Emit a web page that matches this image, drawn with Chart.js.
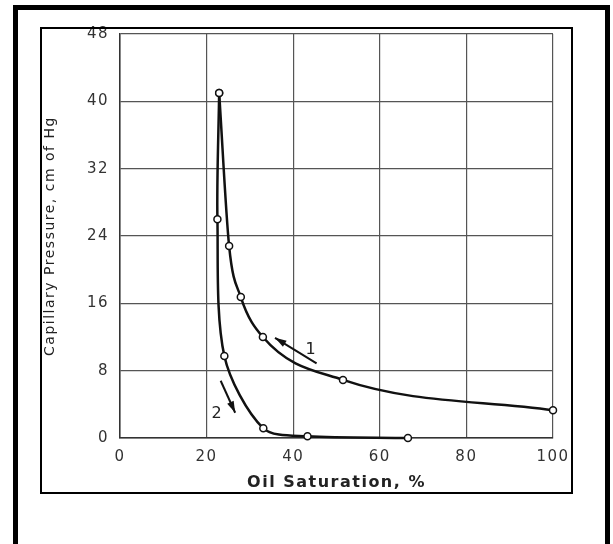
<!DOCTYPE html>
<html>
<head>
<meta charset="utf-8">
<script src="https://cdn.jsdelivr.net/npm/chart.js@4.4.1/dist/chart.umd.min.js"></script>
<style>
  html, body { margin: 0; padding: 0; background: #fff; width: 613px; height: 544px; overflow: hidden; }
  .borda-externa { position: absolute; left: 13px; top: 5px; width: 587px; height: 600px; border: 5px solid #000; }
  .moldura { position: absolute; left: 40px; top: 27px; width: 529px; height: 463px; border: 2px solid #000; }
  #grafico { position: absolute; left: 42px; top: 18px; display: block; }
</style>
</head>
<body>
<div class="borda-externa"></div>
<canvas id="grafico" width="529" height="474"></canvas>
<div class="moldura"></div>
<script>
// Dados
const curva1X = [22.9, 25.2, 27.9, 33.0, 51.5, 100];
const curva1Y = [41.0, 22.8, 16.75, 12.0, 6.9, 3.3];
const curva2X = [22.9, 22.5, 24.1, 33.1, 43.3, 66.5];
const curva2Y = [41.0, 26.0, 9.75, 1.15, 0.2, 0];
const ticksX = [0, 20, 40, 60, 80, 100];
const ticksY = [0, 8, 16, 24, 32, 40, 48];

// Setas e rótulos (em unidades do gráfico)
const setas = [
  { de: [45.4, 8.87], para: [35.8, 11.9] },
  { de: [23.25, 6.8], para: [26.6, 3.0] }
];
const rotulos = [
  { texto: "1", pos: [44.2, 10.5] },
  { texto: "2", pos: [22.5, 2.9] }
];

const pontos = (xs, ys) => xs.map((v, i) => ({ x: v, y: ys[i] }));

// Plugin para desenhar as setas e os números
const anotacoes = {
  id: "anotacoes",
  beforeDraw(chart) {
    chart.ctx.letterSpacing = "1.5px";
  },
  afterDatasetsDraw(chart) {
    const { ctx, scales: { x, y } } = chart;
    ctx.save();
    ctx.strokeStyle = "#111";
    ctx.fillStyle = "#111";
    ctx.lineWidth = 2;
    setas.forEach((s) => {
      const x0 = x.getPixelForValue(s.de[0]), y0 = y.getPixelForValue(s.de[1]);
      const x1 = x.getPixelForValue(s.para[0]), y1 = y.getPixelForValue(s.para[1]);
      ctx.beginPath();
      ctx.moveTo(x0, y0);
      ctx.lineTo(x1, y1);
      ctx.stroke();
      const ang = Math.atan2(y1 - y0, x1 - x0);
      ctx.beginPath();
      ctx.moveTo(x1, y1);
      ctx.lineTo(x1 - 12 * Math.cos(ang - 0.3), y1 - 12 * Math.sin(ang - 0.3));
      ctx.lineTo(x1 - 12 * Math.cos(ang + 0.3), y1 - 12 * Math.sin(ang + 0.3));
      ctx.closePath();
      ctx.fill();
    });
    ctx.font = '16px "DejaVu Sans"';
    ctx.textAlign = "center";
    ctx.textBaseline = "middle";
    ctx.fillStyle = "#222";
    rotulos.forEach((r) => {
      ctx.fillText(r.texto, x.getPixelForValue(r.pos[0]), y.getPixelForValue(r.pos[1]));
    });
    ctx.restore();
  }
};

const estiloCurva = {
  borderColor: "#111",
  borderWidth: 2.5,
  pointRadius: 3.5,
  pointBorderWidth: 1.5,
  pointBackgroundColor: "#fff",
  pointBorderColor: "#111",
  fill: false,
  clip: false
};

const ctx = document.getElementById("grafico").getContext("2d");
new Chart(ctx, {
  type: "scatter",
  data: {
    datasets: [
      { ...estiloCurva, label: "1", data: pontos(curva1X, curva1Y), showLine: true, cubicInterpolationMode: "monotone" },
      { ...estiloCurva, label: "2", data: pontos(curva2X, curva2Y), showLine: true, tension: 0.3 }
    ]
  },
  options: {
    responsive: false,
    animation: false,
    layout: { padding: { top: 16, right: 18, bottom: 0, left: 0 } },
    plugins: { legend: { display: false }, tooltip: { enabled: false } },
    scales: {
      x: {
        type: "linear",
        min: 0,
        max: 100,
        afterBuildTicks: (scale) => { scale.ticks = ticksX.map((v) => ({ value: v })); },
        afterFit: (scale) => { scale.height = 54; scale.paddingLeft = 0; scale.paddingRight = 0; },
        grid: { color: "#555", lineWidth: 1.2, drawTicks: false },
        border: { color: "#333", width: 1.5 },
        ticks: { color: "#333", padding: 10, font: { family: "DejaVu Sans", size: 15 } },
        title: {
          display: true,
          text: "Oil Saturation, %",
          color: "#222",
          padding: { top: 2, bottom: 0 },
          font: { family: "DejaVu Sans", size: 16, weight: "bold" }
        }
      },
      y: {
        min: 0,
        max: 48,
        afterBuildTicks: (scale) => { scale.ticks = ticksY.map((v) => ({ value: v })); },
        afterFit: (scale) => { scale.width = 78; scale.paddingTop = 0; scale.paddingBottom = 0; },
        grid: { color: "#555", lineWidth: 1.2, drawTicks: false },
        border: { color: "#333", width: 1.5 },
        ticks: { color: "#333", padding: 11, font: { family: "DejaVu Sans", size: 15 } },
        title: {
          display: true,
          text: "Capillary Pressure, cm of Hg",
          color: "#222",
          padding: { top: 0, bottom: 0 },
          font: { family: "DejaVu Sans", size: 14 }
        }
      }
    }
  },
  plugins: [anotacoes]
});
</script>
</body>
</html>
